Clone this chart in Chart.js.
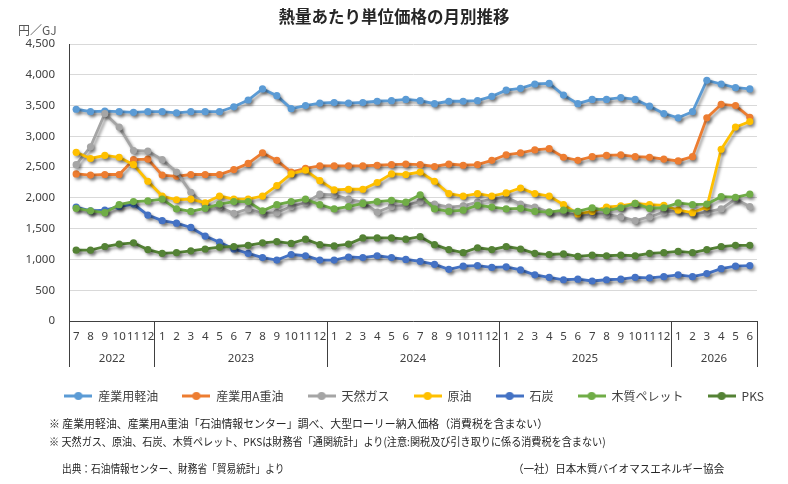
<!DOCTYPE html>
<html><head><meta charset="utf-8">
<script src="https://cdn.jsdelivr.net/npm/chart.js@4.4.0/dist/chart.umd.min.js"></script>
<style>
html,body{margin:0;padding:0;background:#fff;}
#wrap{position:relative;width:788px;height:484px;overflow:hidden;font-family:"Noto Sans CJK JP","Noto Sans",sans-serif;}
canvas{position:absolute;left:0;top:0;}
.note{position:absolute;font-size:11px;line-height:14px;white-space:nowrap;color:#262626;transform-origin:0 50%;}
</style></head><body>
<div id="wrap">
<canvas id="c" width="788" height="484"></canvas>
<div class="note" style="left:18px;top:23px;font-size:12px;color:#595959;">円／GJ</div>
<div class="note" style="left:49px;top:416px;transform:scaleX(0.99);">※ 産業用軽油、産業用A重油「石油情報センター」調べ、大型ローリー納入価格（消費税を含まない）</div>
<div class="note" style="left:49px;top:434px;transform:scaleX(0.92);">※ 天然ガス、原油、石炭、木質ペレット、PKSは財務省「通関統計」より(注意:関税及び引き取りに係る消費税を含まない)</div>
<div class="note" style="left:62px;top:461px;transform:scaleX(0.88);">出典：石油情報センター、財務省「貿易統計」より</div>
<div class="note" style="left:513px;top:461px;transform:scaleX(0.96);">（一社）日本木質バイオマスエネルギー協会</div>
</div>
<script>
const monthLabels = ['7','8','9','10','11','12',
 '1','2','3','4','5','6','7','8','9','10','11','12',
 '1','2','3','4','5','6','7','8','9','10','11','12',
 '1','2','3','4','5','6','7','8','9','10','11','12',
 '1','2','3','4','5','6'];
const yearLabels = ['2022','2022','2022','2022','2022','2022',
 '2023','2023','2023','2023','2023','2023','2023','2023','2023','2023','2023','2023',
 '2024','2024','2024','2024','2024','2024','2024','2024','2024','2024','2024','2024',
 '2025','2025','2025','2025','2025','2025','2025','2025','2025','2025','2025','2025',
 '2026','2026','2026','2026','2026','2026'];
const seriesNames = ['産業用軽油','産業用A重油','天然ガス','原油','石炭','木質ペレット','PKS'];
const keiyu = [3440,3400,3410,3400,3390,3400,
 3400,3380,3400,3400,3400,3480,3590,3770,3660,3450,3500,3540,
 3550,3540,3550,3570,3580,3600,3580,3530,3570,3570,3580,3650,
 3750,3780,3850,3860,3670,3530,3600,3600,3630,3600,3490,3370,
 3300,3400,3910,3850,3790,3770];
const aJuyu = [2390,2370,2380,2380,2620,2630,
 2370,2350,2380,2380,2380,2460,2560,2730,2610,2420,2480,2520,
 2520,2520,2520,2530,2540,2550,2540,2510,2550,2530,2540,2610,
 2700,2730,2780,2800,2660,2610,2670,2690,2700,2670,2660,2630,
 2600,2670,3300,3520,3500,3310];
const tennenGas = [2540,2830,3370,3150,2770,2760,
 2620,2420,2090,1880,1850,1750,1820,1750,1760,1860,1920,2060,
 2050,1980,1930,1770,1860,1880,1940,1900,1850,1870,1930,1980,
 2010,1900,1850,1770,1770,1710,1740,1730,1690,1630,1690,1770,
 1790,1740,1770,1820,1980,1860];
const genyu = [2740,2640,2690,2660,2540,2270,
 2030,1970,1980,1920,2030,1980,1980,2030,2200,2390,2450,2280,
 2130,2140,2140,2250,2390,2380,2420,2270,2070,2030,2070,2030,
 2080,2160,2070,2030,1890,1740,1780,1850,1870,1910,1890,1880,
 1800,1760,1850,2790,3150,3240];
const sekitan = [1850,1790,1800,1860,1900,1720,
 1630,1590,1520,1380,1280,1170,1100,1030,990,1080,1060,990,
 990,1040,1030,1060,1030,1000,970,920,840,890,900,870,
 880,830,750,710,670,680,650,670,680,710,700,720,
 750,720,770,850,890,900];
const pellet = [1830,1790,1760,1890,1940,1950,
 1980,1820,1780,1830,1900,1940,1940,1790,1890,1940,1980,1890,
 1820,1860,1910,1940,1960,1930,2050,1820,1780,1800,1880,1850,
 1820,1830,1780,1770,1800,1780,1840,1790,1840,1910,1830,1840,
 1920,1890,1900,2020,2010,2060];
const pks = [1150,1150,1210,1250,1270,1160,
 1100,1110,1140,1170,1200,1210,1230,1270,1290,1260,1330,1240,
 1220,1250,1350,1350,1350,1330,1370,1240,1160,1110,1190,1160,
 1210,1170,1100,1080,1090,1050,1070,1060,1070,1060,1100,1110,
 1130,1110,1160,1210,1230,1230];
const yTickMin = 0, yTickMax = 4500, yTickStep = 500;

const seriesValues = [keiyu, aJuyu, tennenGas, genyu, sekitan, pellet, pks];
const colors = ['#5B9BD5','#ED7D31','#A5A5A5','#FFC000','#4472C4','#70AD47','#548235'];

function markerCanvas(color){
  const cv = document.createElement('canvas');
  cv.width = 28; cv.height = 10;
  const g = cv.getContext('2d');
  g.strokeStyle = color; g.lineWidth = 3;
  g.beginPath(); g.moveTo(0,5); g.lineTo(28,5); g.stroke();
  g.fillStyle = color; g.beginPath(); g.arc(14,5,4,0,Math.PI*2); g.fill();
  return cv;
}
const markers = colors.map(markerCanvas);

const shadowPlugin = {
  id:'shadow',
  beforeDatasetsDraw(chart){
    const c = chart.ctx; c.save();
    c.shadowColor='rgba(0,0,0,0.38)'; c.shadowBlur=3; c.shadowOffsetX=2; c.shadowOffsetY=2.5;
  },
  afterDatasetsDraw(chart){ chart.ctx.restore(); }
};

const yearAxisPlugin = {
  id:'yearAxis',
  afterDraw(chart){
    const {ctx, chartArea, scales} = chart;
    const x = scales.x;
    const half = (x.getPixelForValue(1) - x.getPixelForValue(0)) / 2;
    const top = chartArea.bottom, bot = chartArea.bottom + 46;
    ctx.save();
    ctx.strokeStyle = '#404040'; ctx.lineWidth = 1;
    ctx.fillStyle = '#404040';
    ctx.font = '11.5px "Noto Sans", sans-serif';
    ctx.textAlign = 'center'; ctx.textBaseline = 'middle';
    const vline = px => { const p = Math.round(px) + 0.5; ctx.beginPath(); ctx.moveTo(p, top); ctx.lineTo(p, bot); ctx.stroke(); };
    vline(chartArea.left - 0.5);
    let start = 0;
    while (start < yearLabels.length) {
      let end = start;
      while (end + 1 < yearLabels.length && yearLabels[end + 1] === yearLabels[start]) end++;
      const a = x.getPixelForValue(start) - half, b = x.getPixelForValue(end) + half;
      vline(b - 0.5);
      ctx.fillText(yearLabels[start], (a + b) / 2, top + 38);
      start = end + 1;
    }
    ctx.restore();
  }
};

new Chart(document.getElementById('c'), {
  type: 'line',
  data: {
    labels: monthLabels,
    datasets: seriesNames.map((n, i) => ({
      label: n,
      data: seriesValues[i],
      borderColor: colors[i],
      backgroundColor: colors[i],
      borderWidth: 2.8,
      pointRadius: 3.6,
      pointBorderWidth: 0,
      pointBackgroundColor: colors[i],
      tension: 0,
      order: seriesNames.length - i
    }))
  },
  options: {
    responsive: false,
    animation: false,
    layout: { padding: { left: 0, right: 0, top: 0, bottom: 72 } },
    plugins: {
      title: {
        display: true,
        text: '熱量あたり単位価格の月別推移',
        color: '#262626',
        font: { family: '"Noto Sans CJK JP", sans-serif', size: 16.5, weight: 'bold' },
        padding: { top: 7, bottom: 17.2 }
      },
      legend: {
        position: 'bottom',
        align: 'end',
        labels: {
          usePointStyle: true,
          pointStyleWidth: 28,
          boxHeight: 10,
          padding: 24,
          color: '#404040',
          font: { family: '"Noto Sans CJK JP", sans-serif', size: 12 },
          sort: (a, b) => a.datasetIndex - b.datasetIndex,
          generateLabels(chart){
            const items = Chart.defaults.plugins.legend.labels.generateLabels(chart);
            items.forEach(it => { it.pointStyle = markers[it.datasetIndex]; });
            return items;
          }
        }
      },
      tooltip: { enabled: false }
    },
    scales: {
      x: {
        offset: true,
        grid: { display: false, drawTicks: false },
        border: { display: true, color: '#404040', width: 1 },
        ticks: { autoSkip: false, maxRotation: 0, minRotation: 0, padding: 9, color: '#404040',
                 font: { family: '"Noto Sans", sans-serif', size: 11.5 } },
        afterFit(s){ s.height = 45; }
      },
      y: {
        min: yTickMin, max: yTickMax,
        grid: { color: '#D9D9D9', drawTicks: false },
        border: { display: true, color: '#404040', width: 1 },
        ticks: { stepSize: yTickStep, padding: 14, color: '#404040',
                 font: { family: '"Noto Sans", sans-serif', size: 11.5 },
                 callback: v => v.toLocaleString('en-US') },
        afterFit(s){ s.width = 69; }
      },
      yRightSpace: {
        position: 'right',
        display: true,
        grid: { display: false, drawTicks: false },
        border: { display: false },
        ticks: { display: false },
        afterFit(s){ s.width = 31; }
      }
    }
  },
  plugins: [shadowPlugin, yearAxisPlugin]
});
</script>
</body></html>
